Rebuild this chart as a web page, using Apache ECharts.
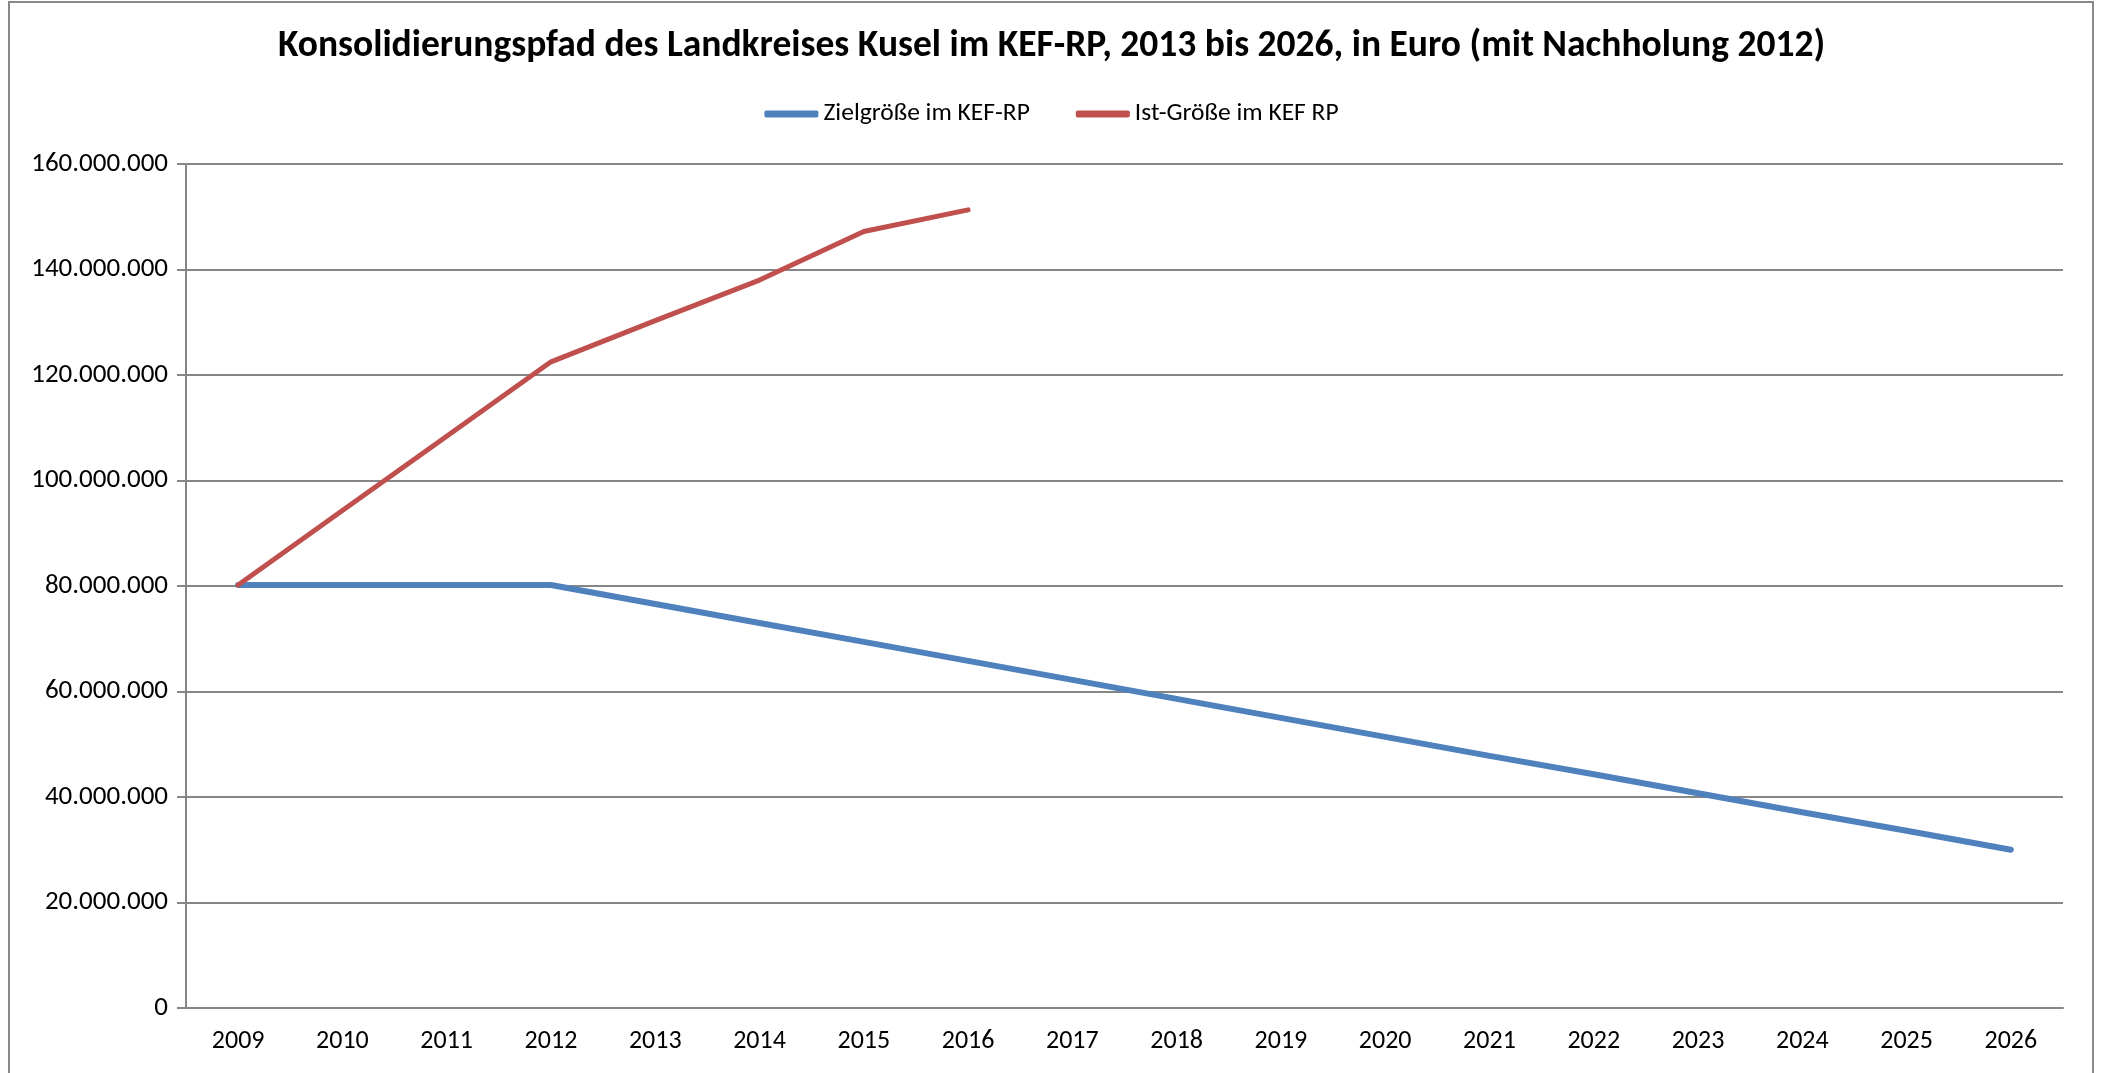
<!DOCTYPE html>
<html>
<head>
<meta charset="utf-8">
<script src="https://cdn.jsdelivr.net/npm/echarts@6/dist/echarts.min.js"></script>
<style>
  html, body { margin: 0; padding: 0; background: #fff; }
  #chart { width: 2103px; height: 1073px; }
</style>
</head>
<body>
<div id="chart"></div>
<script>
// Jahre auf der x-Achse
var years = ['2009', '2010', '2011', '2012', '2013', '2014', '2015', '2016', '2017',
             '2018', '2019', '2020', '2021', '2022', '2023', '2024', '2025', '2026']

// Zielgröße im KEF-RP (Euro)
var zielGroesse = [80200000, 80200000, 80200000, 80200000, 76600000, 73000000, 69400000, 65800000, 62200000,
                   58600000, 55000000, 51400000, 47800000, 44300000, 40700000, 37100000, 33600000, 30000000]

// Ist-Größe im KEF RP (Euro), nur bis 2016
var istGroesse = [80200000, 94300000, 108400000, 122500000, 130300000, 138000000, 147200000, 151300000,
                  null, null, null, null, null, null, null, null, null, null]

var yTicks = [0, 20000000, 40000000, 60000000, 80000000, 100000000, 120000000, 140000000, 160000000]

var fontFam = "Carlito, Calibri, 'Liberation Sans Narrow', 'Liberation Sans', sans-serif"

function deNumber(v) {
  return String(v).replace(/\B(?=(\d{3})+(?!\d))/g, '.')
}

var myChart = echarts.init(document.getElementById('chart'))
myChart.setOption({
  animation: false,
  backgroundColor: '#fff',
  textStyle: { fontFamily: fontFam },
  title: {
    text: 'Konsolidierungspfad des Landkreises Kusel im KEF-RP, 2013 bis 2026, in Euro (mit Nachholung 2012)',
    left: 'center',
    top: 23,
    textStyle: { fontFamily: fontFam, fontSize: 37.5, fontWeight: 'bold', color: '#000' }
  },
  legend: {
    top: 96,
    left: 'center',
    itemWidth: 54,
    itemHeight: 7,
    itemGap: 46,
    icon: 'roundRect',
    textStyle: { fontFamily: fontFam, fontSize: 25.5, color: '#000' },
    data: ['Zielgröße im KEF-RP', 'Ist-Größe im KEF RP']
  },
  graphic: [{
    type: 'rect',
    shape: { x: 9, y: 2, width: 2084, height: 1100 },
    style: { fill: 'none', stroke: '#888', lineWidth: 2 },
    silent: true
  }],
  grid: { left: 186, right: 40, top: 164, bottom: 65 },
  xAxis: {
    type: 'category',
    data: years,
    boundaryGap: true,
    axisLine: { show: true, lineStyle: { color: '#868686', width: 2 } },
    axisTick: { show: false },
    axisLabel: { color: '#000', fontSize: 26, margin: 20, fontFamily: fontFam }
  },
  yAxis: {
    type: 'value',
    min: yTicks[0],
    max: yTicks[yTicks.length - 1],
    interval: yTicks[1] - yTicks[0],
    axisLine: { show: true, lineStyle: { color: '#868686', width: 2 } },
    axisTick: { show: true, length: 9, lineStyle: { color: '#868686', width: 2 } },
    splitLine: { show: true, lineStyle: { color: '#868686', width: 2 } },
    axisLabel: {
      color: '#000', fontSize: 27, margin: 18, fontFamily: fontFam,
      formatter: function (v) { return deNumber(v) }
    }
  },
  series: [
    {
      name: 'Zielgröße im KEF-RP',
      type: 'line',
      data: zielGroesse,
      symbol: 'none',
      color: '#4F81BD',
      lineStyle: { color: '#4F81BD', width: 6, cap: 'round' }
    },
    {
      name: 'Ist-Größe im KEF RP',
      type: 'line',
      data: istGroesse,
      symbol: 'none',
      color: '#C0504D',
      lineStyle: { color: '#C0504D', width: 5, cap: 'round' }
    }
  ]
})
</script>
</body>
</html>
